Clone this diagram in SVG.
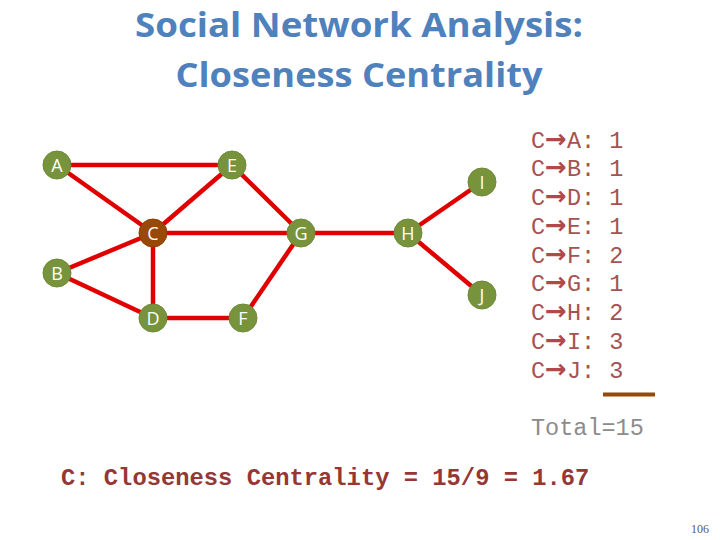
<svg xmlns="http://www.w3.org/2000/svg" width="720" height="540" viewBox="0 0 720 540">
<style>
.title{font-family:"Open Sans","Liberation Sans",sans-serif;font-weight:bold;font-size:34px;fill:#4F81BD;text-anchor:middle}
.edge{stroke:#E00000;stroke-width:4.5;stroke-linecap:round}
.node circle{fill:#77933C;stroke:#6E8A38;stroke-width:1}
.node.hl circle{fill:#984807;stroke:#8A4206}
.node text{font-family:"Open Sans","Liberation Sans",sans-serif;font-size:18px;fill:#FFFFFF;text-anchor:middle}
.row{font-family:"Liberation Mono","Courier New",monospace;font-size:23.5px;fill:#A65252}
.arr{font-family:"DejaVu Sans",sans-serif;font-weight:bold;font-size:26px;fill:#B04A48}
.total{font-family:"Liberation Mono","Courier New",monospace;font-size:23.5px;fill:#8C8C8C}
.formula{font-family:"Liberation Mono","Courier New",monospace;font-weight:bold;font-size:23.8px;fill:#953735}
.pg{font-family:"Liberation Serif","Times New Roman",serif;font-size:12px;fill:#595959}
</style>
<rect width="720" height="540" fill="#FFFFFF"/>
<text class="title" x="359" y="37" textLength="448" lengthAdjust="spacingAndGlyphs">Social Network Analysis:</text>
<text class="title" x="359" y="87" textLength="367" lengthAdjust="spacingAndGlyphs">Closeness Centrality</text>
<g id="connectors">
<line class="edge" x1="57" y1="165" x2="232" y2="165"/>
<line class="edge" x1="57" y1="165" x2="153" y2="233"/>
<line class="edge" x1="232" y1="165" x2="153" y2="233"/>
<line class="edge" x1="232" y1="165" x2="301" y2="233"/>
<line class="edge" x1="153" y1="233" x2="301" y2="233"/>
<line class="edge" x1="153" y1="233" x2="57" y2="273"/>
<line class="edge" x1="153" y1="233" x2="153" y2="318"/>
<line class="edge" x1="57" y1="273" x2="153" y2="318"/>
<line class="edge" x1="153" y1="318" x2="243" y2="318"/>
<line class="edge" x1="243" y1="318" x2="301" y2="233"/>
<line class="edge" x1="301" y1="233" x2="408" y2="233"/>
<line class="edge" x1="408" y1="233" x2="482" y2="182"/>
<line class="edge" x1="408" y1="233" x2="482" y2="295"/>
</g>
<g id="node-A" class="node"><circle cx="57" cy="165" r="14"/><text x="57" y="171.5">A</text></g>
<g id="node-E" class="node"><circle cx="232" cy="165" r="14"/><text x="232" y="171.5">E</text></g>
<g id="node-C" class="node hl"><circle cx="153" cy="233" r="14"/><text x="153" y="239.5">C</text></g>
<g id="node-B" class="node"><circle cx="57" cy="273" r="14"/><text x="57" y="279.5">B</text></g>
<g id="node-D" class="node"><circle cx="153" cy="318" r="14"/><text x="153" y="324.5">D</text></g>
<g id="node-F" class="node"><circle cx="243" cy="318" r="14"/><text x="243" y="324.5">F</text></g>
<g id="node-G" class="node"><circle cx="301" cy="233" r="14"/><text x="301" y="239.5">G</text></g>
<g id="node-H" class="node"><circle cx="408" cy="233" r="14"/><text x="408" y="239.5">H</text></g>
<g id="node-I" class="node"><circle cx="482" cy="182" r="14"/><text x="482" y="188.5">I</text></g>
<g id="node-J" class="node"><circle cx="482" cy="295" r="14"/><text x="482" y="301.5">J</text></g>
<g id="distances">
<text class="row" x="531" y="147.5">C<tspan class="arr" x="545">→</tspan><tspan x="567">A: 1</tspan></text>
<text class="row" x="531" y="176.3">C<tspan class="arr" x="545">→</tspan><tspan x="567">B: 1</tspan></text>
<text class="row" x="531" y="205">C<tspan class="arr" x="545">→</tspan><tspan x="567">D: 1</tspan></text>
<text class="row" x="531" y="233.8">C<tspan class="arr" x="545">→</tspan><tspan x="567">E: 1</tspan></text>
<text class="row" x="531" y="262.5">C<tspan class="arr" x="545">→</tspan><tspan x="567">F: 2</tspan></text>
<text class="row" x="531" y="291.3">C<tspan class="arr" x="545">→</tspan><tspan x="567">G: 1</tspan></text>
<text class="row" x="531" y="320">C<tspan class="arr" x="545">→</tspan><tspan x="567">H: 2</tspan></text>
<text class="row" x="531" y="348.8">C<tspan class="arr" x="545">→</tspan><tspan x="567">I: 3</tspan></text>
<text class="row" x="531" y="377.5">C<tspan class="arr" x="545">→</tspan><tspan x="567">J: 3</tspan></text>
<line x1="603" y1="394.5" x2="655" y2="394.5" stroke="#984807" stroke-width="4"/>
<text class="total" x="531" y="435">Total=15</text>
</g>
<text class="formula" x="61" y="485">C: Closeness Centrality = 15/9 = 1.67</text>
<text class="pg" x="709" y="533" text-anchor="end">106</text>
</svg>
